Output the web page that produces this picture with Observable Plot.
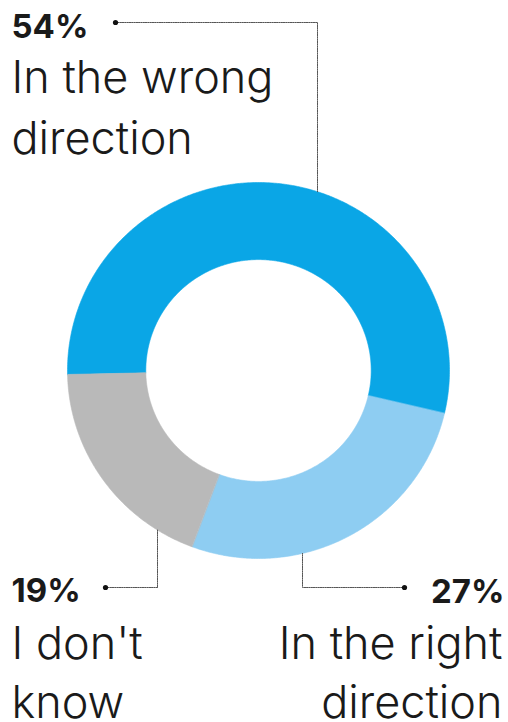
<!DOCTYPE html>
<html>
<head>
<meta charset="utf-8">
<script src="https://cdn.jsdelivr.net/npm/d3@7"></script>
<script src="https://cdn.jsdelivr.net/npm/@observablehq/plot@0.6"></script>
<style>
  html, body { margin: 0; padding: 0; background: #fff; }
  #chart svg { display: block; }
</style>
</head>
<body>
<div id="chart"></div>
<script>
// ---- data ----
const categories = ["In the wrong direction", "In the right direction", "I don't know"];
const values = [54, 27, 19];
const pctLabels = ["54%", "27%", "19%"];
const labelLines = [["In the wrong", "direction"], ["In the right", "direction"], ["I don't", "know"]];
const colors = ["#0aa6e6", "#8ecdf2", "#b9b9b9"];

// ---- layout ----
const W = 508, H = 722;
const cx = 258, cy = 370, rx = 191, ry = 188, innerRatio = 0.59;
const startDeg = -91.2;
const fontFamily = "Inter, 'Liberation Sans', sans-serif";

// pie angles
const pie = d3.pie().sort(null).startAngle(startDeg * Math.PI / 180).endAngle((startDeg + 360) * Math.PI / 180);
const arcs = pie(values);

const ringPts = [];
arcs.forEach((a, i) => {
  const n = Math.max(8, Math.ceil((a.endAngle - a.startAngle) / (Math.PI / 360)));
  const pt = (t, r) => ({category: categories[i], x: cx + r * rx * Math.sin(t), y: cy - r * ry * Math.cos(t)});
  for (let k = 0; k <= n; k++) ringPts.push(pt(a.startAngle + (a.endAngle - a.startAngle) * k / n, 1));
  for (let k = n; k >= 0; k--) ringPts.push(pt(a.startAngle + (a.endAngle - a.startAngle) * k / n, innerRatio));
});

// label layout
const layout = [
  {anchor: "start", x: 11, pctY: 37, lineY: 92, gap: 61, dotX: 115, dotY: 22, elbowX: 317, toward: "up"},
  {anchor: "end", x: 502, pctY: 602, lineY: 658, gap: 59, dotX: 404, dotY: 587, elbowX: 302, toward: "down"},
  {anchor: "start", x: 11, pctY: 601, lineY: 658, gap: 59, dotX: 105, dotY: 587, elbowX: 157, toward: "down"}
];

const edgeY = (x, dir) => {
  const dx = (x - cx) / rx;
  const h = ry * Math.sqrt(Math.max(0, 1 - dx * dx));
  return dir === "up" ? cy - h : cy + h;
};

const leaders = [];
layout.forEach((L, i) => {
  leaders.push({k: i, x: L.dotX, y: L.dotY});
  leaders.push({k: i, x: L.elbowX, y: L.dotY});
  leaders.push({k: i, x: L.elbowX, y: edgeY(L.elbowX, L.toward)});
});
const dots = layout.map((L, i) => ({x: L.dotX, y: L.dotY}));

const pctText = layout.map((L, i) => ({x: L.x, y: L.pctY, text: pctLabels[i], anchor: L.anchor}));
const bodyText = [];
layout.forEach((L, i) => labelLines[i].forEach((t, j) => bodyText.push({x: L.x, y: L.lineY + j * L.gap, text: t, anchor: L.anchor})));

const pctStyle = {x: "x", y: "y", text: "text", lineAnchor: "bottom", fontSize: 33, fontWeight: 700, fill: "#1a1a1a", letterSpacing: "2px"};
const bodyStyle = {x: "x", y: "y", text: "text", lineAnchor: "bottom", fontSize: 45, fontWeight: 300, fill: "#1a1a1a", letterSpacing: "0.3px"};

const chart = Plot.plot({
  width: W,
  height: H,
  margin: 0,
  x: {domain: [0, W], range: [0, W], axis: null},
  y: {domain: [0, H], range: [0, H], axis: null},
  color: {domain: categories, range: colors},
  style: {fontFamily},
  marks: [
    Plot.line(ringPts, {x: "x", y: "y", z: "category", fill: "category", stroke: "category", strokeWidth: 0.6, curve: "linear-closed"}),
    Plot.line(leaders, {x: "x", y: "y", z: "k", stroke: "#555", strokeWidth: 1, strokeDasharray: "1.4,0.9"}),
    Plot.dot(dots, {x: "x", y: "y", r: 2.6, fill: "#111", stroke: null}),
    Plot.text(pctText.filter(d => d.anchor === "start"), {...pctStyle, textAnchor: "start"}),
    Plot.text(pctText.filter(d => d.anchor === "end"), {...pctStyle, textAnchor: "end", dx: 2}),
    Plot.text(bodyText.filter(d => d.anchor === "start"), {...bodyStyle, textAnchor: "start"}),
    Plot.text(bodyText.filter(d => d.anchor === "end"), {...bodyStyle, textAnchor: "end"})
  ]
});
document.getElementById("chart").appendChild(chart);
</script>
</body>
</html>
